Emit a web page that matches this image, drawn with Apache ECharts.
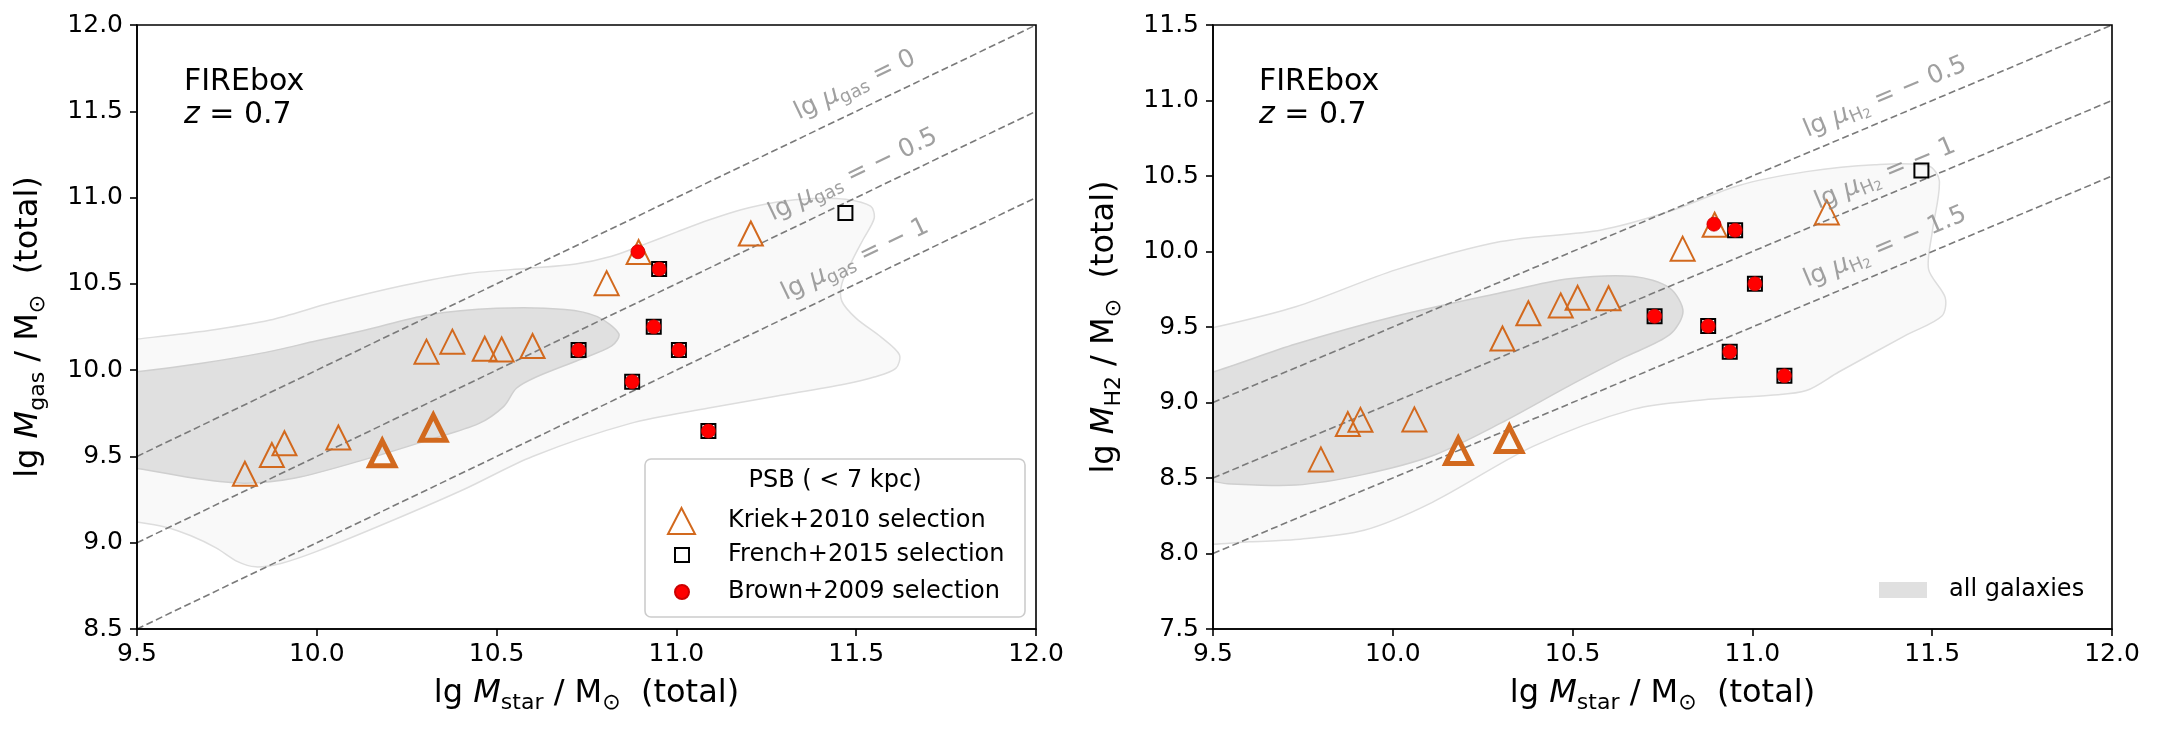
<!DOCTYPE html>
<html>
<head>
<meta charset="utf-8">
<script src="https://cdn.jsdelivr.net/npm/echarts@6/dist/echarts.min.js"></script>
<style>
html, body { margin: 0; padding: 0; background: #fff; }
#chart { width: 2157px; height: 729px; }
</style>
</head>
<body>
<div id="chart"></div>
<script>
// ---- data ----
var xTicks = [9.5, 10.0, 10.5, 11.0, 11.5, 12.0];

// same galaxies in both panels, so the stellar masses are shared
var kriekX   = [9.80, 9.875, 9.91, 10.06, 10.305, 10.377, 10.467, 10.514, 10.60, 10.806, 10.895, 11.207];
var kriekGas = [9.40, 9.508, 9.576, 9.61, 10.107, 10.165, 10.124, 10.12, 10.14, 10.504, 10.684, 10.792];
var kriekH2  = [8.623, 8.857, 8.885, 8.888, 9.424, 9.591, 9.643, 9.693, 9.69, 10.019, 10.177, 10.259];

var boldX   = [10.182, 10.324];
var boldGas = [9.518, 9.666];
var boldH2  = [8.678, 8.758];

var frenchX   = [10.728, 10.877, 10.937, 10.952, 11.007, 11.089, 11.47];
var frenchGas = [10.116, 9.933, 10.251, 10.586, 10.116, 9.647, 10.91];
var frenchH2  = [9.571, 9.506, 9.336, 10.141, 9.786, 9.177, 10.537];

var brownX   = [10.728, 10.877, 10.937, 10.952, 11.007, 11.089, 10.893];
var brownGas = [10.116, 9.933, 10.251, 10.586, 10.116, 9.647, 10.686];
var brownH2  = [9.571, 9.506, 9.336, 10.141, 9.786, 9.177, 10.181];

// constant gas-fraction guide lines, lg mu = lg M - lg Mstar
var gasMu = [0, -0.5, -1];
var h2Mu  = [-0.5, -1, -1.5];

// where the guide-line labels sit (data coords)
var gasLabelAt = [[11.497, 11.65], [11.491, 11.13], [11.497, 10.64]];
var h2LabelAt  = [[11.369, 11.022], [11.369, 10.513], [11.369, 10.029]];

// KDE contours of all galaxies (outer = light, inner = dark)
var gasOuter = [[9.45,10.17],[9.5,10.18],[9.7,10.23],[9.87,10.29],[10.04,10.39],[10.24,10.49],[10.42,10.56],[10.59,10.59],[10.72,10.615],[10.82,10.66],[10.9,10.72],[11.0,10.80],[11.09,10.87],[11.18,10.93],[11.28,10.975],[11.38,10.995],[11.47,10.99],[11.54,10.95],[11.55,10.88],[11.52,10.76],[11.49,10.64],[11.46,10.5],[11.46,10.40],[11.5,10.30],[11.57,10.19],[11.62,10.09],[11.61,10.01],[11.55,9.96],[11.47,9.92],[11.28,9.85],[11.09,9.78],[10.87,9.69],[10.6,9.5],[10.41,9.31],[10.2,9.12],[10.0,8.95],[9.9,8.88],[9.83,8.86],[9.78,8.89],[9.72,8.97],[9.65,9.04],[9.58,9.09],[9.5,9.12],[9.45,9.13]];
var gasInner = [[9.45,9.985],[9.5,9.99],[9.68,10.04],[9.85,10.1],[10.0,10.17],[10.13,10.23],[10.31,10.32],[10.5,10.358],[10.69,10.352],[10.78,10.31],[10.84,10.21],[10.82,10.14],[10.73,10.06],[10.61,9.96],[10.555,9.895],[10.52,9.79],[10.45,9.69],[10.31,9.595],[10.13,9.48],[9.94,9.375],[9.8,9.345],[9.67,9.37],[9.5,9.43],[9.45,9.43]];
var h2Outer = [[9.45,9.48],[9.5,9.495],[9.73,9.634],[10.01,9.88],[10.3,10.066],[10.58,10.143],[10.77,10.266],[10.96,10.436],[11.15,10.529],[11.34,10.575],[11.49,10.566],[11.52,10.467],[11.5,10.128],[11.49,9.881],[11.536,9.696],[11.527,9.573],[11.43,9.449],[11.24,9.202],[11.15,9.079],[11.05,9.048],[10.86,9.017],[10.67,8.956],[10.39,8.709],[10.11,8.339],[9.92,8.154],[9.73,8.092],[9.6,8.077],[9.5,8.061],[9.45,8.06]];
var h2Inner = [[9.45,9.18],[9.5,9.202],[9.73,9.387],[10.01,9.573],[10.3,9.727],[10.49,9.819],[10.67,9.835],[10.77,9.758],[10.807,9.603],[10.77,9.449],[10.64,9.295],[10.49,9.11],[10.3,8.863],[10.11,8.647],[9.92,8.524],[9.73,8.453],[9.54,8.462],[9.5,8.478],[9.45,8.49]];

// ---- styling ----
var F = 'DejaVu Sans';
var ORANGE = '#d2691e';
var GUIDE = '#7a7a7a';

function pairs(xs, ys) {
    return xs.map(function (x, i) { return [x, ys[i]]; });
}
function minus(v) {
    return v < 0 ? '\u2212 ' + Math.abs(v) : String(v);
}

var chart = echarts.init(document.getElementById('chart'));

var nameRich = {
    a: { fontSize: 32, fontFamily: F, color: '#000', lineHeight: 40, verticalAlign: 'middle' },
    i: { fontSize: 32, fontFamily: F, fontStyle: 'italic', color: '#000', lineHeight: 40, verticalAlign: 'middle' },
    s: { fontSize: 22, fontFamily: F, color: '#000', lineHeight: 20, verticalAlign: 'bottom' }
};
var guideRich = {
    a: { fontSize: 25, fontFamily: F, color: '#888', lineHeight: 31, verticalAlign: 'middle' },
    i: { fontSize: 25, fontFamily: F, fontStyle: 'italic', color: '#888', lineHeight: 31, verticalAlign: 'middle' },
    s: { fontSize: 18, fontFamily: F, color: '#888', lineHeight: 17, verticalAlign: 'bottom' },
    ss: { fontSize: 13, fontFamily: F, color: '#888', lineHeight: 8, verticalAlign: 'bottom' }
};
var boxRich = {
    a: { fontSize: 30, fontFamily: F, fontWeight: 'normal', color: '#000', lineHeight: 33 },
    i: { fontSize: 30, fontFamily: F, fontWeight: 'normal', fontStyle: 'italic', color: '#000', lineHeight: 33 }
};

function xAxisOpt(idx) {
    return {
        gridIndex: idx, type: 'value', min: 9.5, max: 12, interval: 0.5, z: 10,
        name: '{a|lg }{i|M}{s|star}{a| / M}{s|\u2299}{a|  (total)}',
        nameLocation: 'middle', nameGap: 45,
        nameTextStyle: { rich: nameRich },
        axisLine: { show: true, lineStyle: { color: '#000', width: 1.6 } },
        axisTick: { show: true, length: 7, lineStyle: { color: '#000', width: 1.6 } },
        axisLabel: { fontSize: 25, fontFamily: F, color: '#000', margin: 13, formatter: function (v) { return v.toFixed(1); } },
        splitLine: { show: false }
    };
}
function yAxisOpt(idx, lo, hi, sub) {
    return {
        gridIndex: idx, type: 'value', min: lo, max: hi, interval: 0.5, z: 10,
        name: '{a|lg }{i|M}{s|' + sub + '}{a| / M}{s|\u2299}{a|  (total)}',
        nameLocation: 'middle', nameGap: 88, nameRotate: 90,
        nameTextStyle: { rich: nameRich },
        axisLine: { show: true, lineStyle: { color: '#000', width: 1.6 } },
        axisTick: { show: true, length: 7, lineStyle: { color: '#000', width: 1.6 } },
        axisLabel: { fontSize: 25, fontFamily: F, color: '#000', margin: 14, formatter: function (v) { return v.toFixed(1); } },
        splitLine: { show: false }
    };
}

function contour(name, idx, pts, fill, edge, z) {
    return {
        name: name, type: 'custom', xAxisIndex: idx, yAxisIndex: idx,
        clip: true, silent: true, z: z,
        itemStyle: { color: fill },
        data: [[10, 10]],
        renderItem: function (params, api) {
            return {
                type: 'polygon',
                shape: { points: pts.map(function (p) { return api.coord(p); }), smooth: 0.3 },
                style: { fill: fill, stroke: edge, lineWidth: 1.5 }
            };
        }
    };
}

function guides(idx, mus) {
    return mus.map(function (mu) {
        return {
            type: 'line', xAxisIndex: idx, yAxisIndex: idx, silent: true, z: 3,
            symbol: 'none', animation: false,
            data: [[9.5, 9.5 + mu], [12, 12 + mu]],
            lineStyle: { color: GUIDE, width: 1.6, type: [7, 3.5] }
        };
    });
}

function guideLabels(idx, at, mus, sub, angle) {
    return {
        type: 'scatter', xAxisIndex: idx, yAxisIndex: idx, silent: true, z: 8,
        symbol: 'circle', symbolSize: 1, itemStyle: { color: 'rgba(0,0,0,0)' },
        data: at.map(function (p, i) {
            return {
                value: p,
                label: {
                    show: true, position: 'inside', rotate: angle,
                    formatter: '{a|lg }{i|\u03bc}' + sub + '{a| = ' + minus(mus[i]) + '}',
                    rich: guideRich
                }
            };
        })
    };
}

function markers(idx, ys) {
    return [
        {
            name: 'Kriek+2010 selection', type: 'scatter', xAxisIndex: idx, yAxisIndex: idx, z: 5,
            symbol: 'triangle', symbolSize: 24,
            itemStyle: { color: 'rgba(255,255,255,0)', borderColor: ORANGE, borderWidth: 2, opacity: 1 },
            data: pairs(kriekX, ys.kriek)
        },
        {
            name: 'Kriek bold', type: 'scatter', xAxisIndex: idx, yAxisIndex: idx, z: 5,
            symbol: 'triangle', symbolSize: 25,
            itemStyle: { color: 'rgba(255,255,255,0)', borderColor: ORANGE, borderWidth: 5, opacity: 1 },
            data: pairs(boldX, ys.bold)
        },
        {
            name: 'French+2015 selection', type: 'scatter', xAxisIndex: idx, yAxisIndex: idx, z: 6,
            symbol: 'rect', symbolSize: 14,
            itemStyle: { color: 'rgba(255,255,255,0)', borderColor: '#000', borderWidth: 2, opacity: 1 },
            data: pairs(frenchX, ys.french)
        },
        {
            name: 'Brown+2009 selection', type: 'scatter', xAxisIndex: idx, yAxisIndex: idx, z: 7,
            symbol: 'circle', symbolSize: 14,
            itemStyle: { color: '#ff0000', borderColor: '#cc0000', borderWidth: 0.8, opacity: 1 },
            data: pairs(brownX, ys.brown)
        }
    ];
}

var series = [].concat(
    contour('', 0, gasOuter, '#f9f9f9', '#dddddd', 1),
    contour('', 0, gasInner, '#e0e0e0', '#cfcfcf', 1),
    guides(0, gasMu),
    guideLabels(0, gasLabelAt, gasMu, '{s|gas}', 25.6),
    markers(0, { kriek: kriekGas, bold: boldGas, french: frenchGas, brown: brownGas }),
    contour('', 1, h2Outer, '#f9f9f9', '#dddddd', 1),
    contour('all galaxies', 1, h2Inner, '#e0e0e0', '#cfcfcf', 1),
    guides(1, h2Mu),
    guideLabels(1, h2LabelAt, h2Mu, '{s|H}{ss|2}', 22.8),
    markers(1, { kriek: kriekH2, bold: boldH2, french: frenchH2, brown: brownH2 })
);

function legendOpt(name, left, top, w, h, pad, icon) {
    var o = {
        data: [name], left: left, top: top, padding: 0, z: 12,
        itemWidth: w, itemHeight: h, selectedMode: false,
        textStyle: { fontSize: 24, fontFamily: F, color: '#000', padding: [0, 0, 0, pad] }
    };
    if (icon) o.icon = icon;
    return o;
}

var option = {
    animation: false,
    backgroundColor: '#fff',
    grid: [
        { left: 137, top: 25, width: 899, height: 604, show: true, z: 10, borderColor: '#000', borderWidth: 1.6, backgroundColor: 'rgba(0,0,0,0)' },
        { left: 1213, top: 25, width: 899, height: 604, show: true, z: 10, borderColor: '#000', borderWidth: 1.6, backgroundColor: 'rgba(0,0,0,0)' }
    ],
    xAxis: [xAxisOpt(0), xAxisOpt(1)],
    yAxis: [yAxisOpt(0, 8.5, 12, 'gas'), yAxisOpt(1, 7.5, 11.5, 'H2')],
    title: [
        { text: '{a|FIREbox}\n{i|z}{a| = 0.7}', left: 184, top: 66, padding: 0, textStyle: { fontWeight: 'normal', rich: boxRich } },
        { text: '{a|FIREbox}\n{i|z}{a| = 0.7}', left: 1259, top: 66, padding: 0, textStyle: { fontWeight: 'normal', rich: boxRich } }
    ],
    legend: [
        legendOpt('Kriek+2010 selection', 667, 507, 27, 26, 28),
        legendOpt('French+2015 selection', 674, 543, 14, 14, 34),
        legendOpt('Brown+2009 selection', 674, 580, 14, 14, 34),
        legendOpt('all galaxies', 1879, 578, 48, 16, 17, 'rect')
    ],
    graphic: [
        {
            type: 'rect', z: 11, silent: true,
            shape: { x: 645, y: 459, width: 380, height: 158, r: 6 },
            style: { fill: 'rgba(255,255,255,0.85)', stroke: '#cccccc', lineWidth: 1.6 }
        },
        {
            type: 'text', z: 12, silent: true, x: 835, y: 481,
            style: { text: 'PSB ( < 7 kpc)', fontSize: 24, fontFamily: F, fill: '#000', textAlign: 'center', textVerticalAlign: 'middle' }
        }
    ],
    series: series
};

chart.setOption(option);
window.addEventListener('resize', function () { chart.resize(); });
</script>
</body>
</html>
